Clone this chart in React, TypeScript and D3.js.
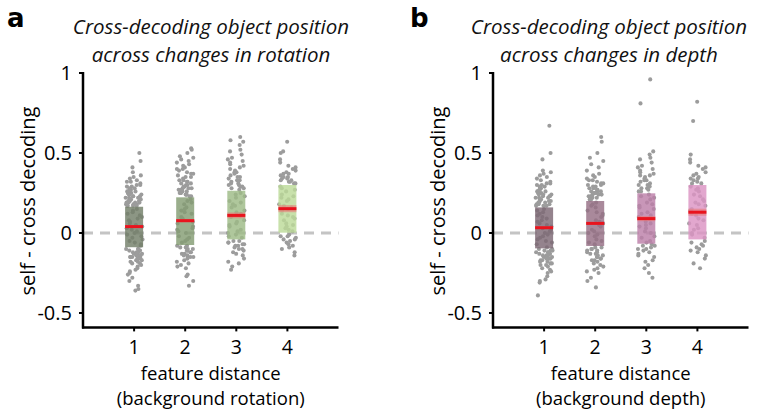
import React from 'react';
import * as d3 from 'd3';

const categories = [1, 2, 3, 4];
const yTicks = [-0.5, 0, 0.5, 1];
const yTickLabels = ['-0.5', '0', '0.5', '1'];

// Panel a: rotation
const rotMeans = [0.04, 0.077, 0.11, 0.152];
const rotBoxLow = [-0.089, -0.075, -0.04, 0.002];
const rotBoxHigh = [0.164, 0.223, 0.264, 0.3];
const rotCi = [0.008, 0.01, 0.018, 0.022];
const rotCat1 = [0.50, 0.45, 0.41, 0.38, 0.36, 0.35, 0.34, 0.33, 0.32, 0.32, 0.31, 0.30, 0.30, 0.29, 0.29, 0.28, 0.28, 0.27, 0.27, 0.27, 0.26, 0.26, 0.26, 0.25, 0.25, 0.25, 0.24, 0.24, 0.24, 0.23, 0.23, 0.23, 0.22, 0.22, 0.22, 0.22, 0.21, 0.21, 0.21, 0.21, 0.20, 0.20, 0.20, 0.20, 0.19, 0.19, 0.19, 0.19, 0.18, 0.18, 0.18, 0.18, 0.17, 0.17, 0.17, 0.17,
  0.15, 0.13, 0.11, 0.09, 0.07, 0.05, 0.03, 0.01, -0.01, -0.03, -0.05, -0.07, 0.14, 0.10, 0.06, 0.02, -0.02, -0.06, 0.12, 0.08, 0.04, 0.0, -0.04, -0.08,
  -0.10, -0.10, -0.10, -0.11, -0.11, -0.11, -0.12, -0.12, -0.12, -0.13, -0.13, -0.13, -0.14, -0.14, -0.14, -0.15, -0.15, -0.15, -0.16, -0.16, -0.17, -0.17, -0.18, -0.18, -0.19, -0.19, -0.20, -0.21, -0.22, -0.23, -0.24, -0.25, -0.26, -0.28, -0.30, -0.33, -0.35, -0.36];
const rotCat2 = [0.53, 0.52, 0.50, 0.48, 0.47, 0.46, 0.45, 0.44, 0.43, 0.42, 0.41, 0.40, 0.40, 0.39, 0.38, 0.37, 0.37, 0.36, 0.35, 0.35, 0.34, 0.33, 0.33, 0.32, 0.32, 0.31, 0.31, 0.30, 0.30, 0.29, 0.29, 0.28, 0.28, 0.28, 0.27, 0.27, 0.27, 0.26, 0.26, 0.26, 0.25, 0.25, 0.25, 0.24, 0.24, 0.24, 0.23, 0.23,
  0.21, 0.18, 0.15, 0.12, 0.09, 0.06, 0.03, 0.0, -0.03, -0.06, 0.20, 0.16, 0.13, 0.10, 0.07, 0.04, 0.01, -0.02, -0.05, 0.19, 0.14, 0.08, 0.02, -0.04,
  -0.08, -0.08, -0.09, -0.09, -0.10, -0.10, -0.11, -0.11, -0.12, -0.12, -0.13, -0.13, -0.14, -0.14, -0.15, -0.15, -0.16, -0.17, -0.18, -0.19, -0.20, -0.21, -0.22, -0.26, -0.27, -0.30, -0.33];
const rotCat3 = [0.60, 0.58, 0.57, 0.55, 0.52, 0.51, 0.49, 0.47, 0.46, 0.45, 0.44, 0.43, 0.42, 0.41, 0.40, 0.39, 0.38, 0.38, 0.37, 0.36, 0.35, 0.35, 0.34, 0.33, 0.33, 0.32, 0.31, 0.31, 0.30, 0.30, 0.29, 0.29, 0.28, 0.28, 0.27,
  0.25, 0.22, 0.19, 0.16, 0.13, 0.10, 0.07, 0.04, 0.01, -0.02, 0.24, 0.20, 0.17, 0.14, 0.11, 0.08, 0.05, 0.02, -0.01, -0.03, 0.23, 0.18, 0.12, 0.06, 0.0,
  -0.05, -0.05, -0.06, -0.06, -0.07, -0.07, -0.08, -0.08, -0.09, -0.10, -0.10, -0.11, -0.12, -0.13, -0.14, -0.16, -0.18, -0.19, -0.21, -0.23];
const rotCat4 = [0.57, 0.51, 0.50, 0.46, 0.44, 0.42, 0.41, 0.40, 0.39, 0.38, 0.37, 0.37, 0.36, 0.35, 0.35, 0.34, 0.34, 0.33, 0.33, 0.32, 0.32, 0.31, 0.31,
  0.29, 0.26, 0.23, 0.20, 0.17, 0.14, 0.11, 0.08, 0.05, 0.02, 0.28, 0.24, 0.21, 0.18, 0.15, 0.12, 0.09, 0.06, 0.03, 0.01, 0.27, 0.22, 0.16, 0.10, 0.04,
  -0.01, -0.02, -0.02, -0.03, -0.04, -0.04, -0.05, -0.06, -0.07, -0.08, -0.09, -0.10, -0.12, -0.14];

// Panel b: depth
const depMeans = [0.033, 0.06, 0.09, 0.13];
const depBoxLow = [-0.096, -0.081, -0.067, -0.04];
const depBoxHigh = [0.16, 0.2, 0.248, 0.3];
const depCi = [0.008, 0.01, 0.016, 0.022];
const depCat1 = [0.67, 0.50, 0.46, 0.39, 0.38, 0.37, 0.36, 0.35, 0.34, 0.33, 0.32, 0.31, 0.31, 0.30, 0.30, 0.29, 0.29, 0.28, 0.28, 0.27, 0.27, 0.26, 0.26, 0.26, 0.25, 0.25, 0.25, 0.24, 0.24, 0.24, 0.23, 0.23, 0.23, 0.22, 0.22, 0.22, 0.21, 0.21, 0.21, 0.20, 0.20, 0.20, 0.19, 0.19, 0.19, 0.18, 0.18, 0.18, 0.17, 0.17, 0.17,
  0.15, 0.13, 0.11, 0.09, 0.07, 0.05, 0.03, 0.01, -0.01, -0.03, -0.05, -0.07, -0.09, 0.14, 0.10, 0.06, 0.02, -0.02, -0.06, 0.12, 0.08, 0.04, 0.0, -0.04,
  -0.10, -0.10, -0.11, -0.11, -0.11, -0.12, -0.12, -0.12, -0.13, -0.13, -0.13, -0.14, -0.14, -0.14, -0.15, -0.15, -0.15, -0.16, -0.16, -0.16, -0.17, -0.17, -0.18, -0.18, -0.19, -0.19, -0.20, -0.20, -0.21, -0.22, -0.23, -0.24, -0.25, -0.27, -0.29, -0.30, -0.31, -0.39];
const depCat2 = [0.60, 0.57, 0.50, 0.47, 0.45, 0.43, 0.41, 0.39, 0.37, 0.36, 0.35, 0.34, 0.33, 0.33, 0.32, 0.31, 0.31, 0.30, 0.30, 0.29, 0.29, 0.28, 0.28, 0.27, 0.27, 0.26, 0.26, 0.26, 0.25, 0.25, 0.25, 0.24, 0.24, 0.24, 0.23, 0.23, 0.23, 0.22, 0.22, 0.22, 0.21, 0.21, 0.21,
  0.19, 0.16, 0.13, 0.10, 0.07, 0.04, 0.01, -0.02, -0.05, 0.18, 0.14, 0.11, 0.08, 0.05, 0.02, -0.01, -0.04, -0.07, 0.17, 0.12, 0.06, 0.0, -0.06,
  -0.09, -0.09, -0.10, -0.10, -0.11, -0.11, -0.12, -0.12, -0.13, -0.13, -0.14, -0.14, -0.15, -0.15, -0.16, -0.16, -0.17, -0.17, -0.18, -0.19, -0.20, -0.21, -0.22, -0.23, -0.24, -0.25, -0.28, -0.30, -0.34];
const depCat3 = [0.96, 0.81, 0.51, 0.49, 0.47, 0.46, 0.44, 0.42, 0.41, 0.40, 0.39, 0.38, 0.37, 0.36, 0.36, 0.35, 0.34, 0.33, 0.33, 0.32, 0.31, 0.30, 0.30, 0.29, 0.28, 0.28, 0.27, 0.26, 0.26,
  0.24, 0.21, 0.18, 0.15, 0.12, 0.09, 0.06, 0.03, 0.0, -0.03, -0.06, 0.23, 0.19, 0.16, 0.13, 0.10, 0.07, 0.04, 0.01, -0.02, -0.05, 0.22, 0.17, 0.11, 0.05,
  -0.07, -0.08, -0.08, -0.09, -0.10, -0.10, -0.11, -0.12, -0.13, -0.14, -0.15, -0.17, -0.18, -0.20, -0.22, -0.25, -0.28];
const depCat4 = [0.82, 0.70, 0.49, 0.46, 0.44, 0.42, 0.41, 0.40, 0.38, 0.37, 0.36, 0.35, 0.34, 0.34, 0.33, 0.32, 0.31, 0.31,
  0.29, 0.26, 0.23, 0.20, 0.17, 0.14, 0.11, 0.08, 0.05, 0.02, -0.01, 0.28, 0.24, 0.21, 0.18, 0.15, 0.12, 0.09, 0.06, 0.03, 0.0, -0.03, 0.27, 0.19, 0.13,
  -0.05, -0.06, -0.07, -0.08, -0.09, -0.10, -0.11, -0.12, -0.14, -0.16, -0.19, -0.22];

const rotColors = ['#737f69', '#849c73', '#9dbb86', '#bcdb98'];
const depColors = ['#7d6874', '#966f85', '#bc7fa8', '#dc94c3'];

const FONT = "'Open Sans', 'DejaVu Sans', sans-serif";

// deterministic horizontal jitter (layout only)
function jitter(i: number, c: number) {
  const s = Math.sin(i * 12.9898 + c * 78.233 + 1.7) * 43758.5453;
  return s - Math.floor(s);
}

type PanelProps = {
  letter: string;
  letterX: number;
  axisX: number;
  titleX: number;
  title: string[];
  xLabel: string[];
  points: number[][];
  means: number[];
  boxLow: number[];
  boxHigh: number[];
  ci: number[];
  colors: string[];
};

function Panel(p: PanelProps) {
  const x = d3.scaleLinear().domain([0, 5]).range([p.axisX, p.axisX + 255.5]);
  const y = d3.scaleLinear().domain([-0.59, 1]).range([327.4, 73]);
  const boxW = 18;
  const jitterW = 17;
  const plotCenter = (x(0) + x(5)) / 2;
  return (
    <g>
      <text x={p.letterX} y={27} fontFamily="'DejaVu Sans', sans-serif" fontWeight="bold" fontSize={26} fill="#000">{p.letter}</text>
      {p.title.map((t, i) => (
        <text key={i} x={p.titleX} y={34 + i * 28} textAnchor="middle" fontFamily={FONT} fontStyle="italic" fontSize={20.5} fill="#111">{t}</text>
      ))}
      <line x1={x(0)} x2={x(5)} y1={y(0)} y2={y(0)} stroke="#c4c4c4" strokeWidth={3} strokeDasharray="10,7" />
      {p.points.map((vals, c) => (
        <g key={'d' + c}>
          {vals.map((v, i) => (
            <circle key={i} cx={x(categories[c]) + (jitter(i, c) - 0.5) * jitterW} cy={y(v)} r={2.05} fill="#9c9c9c" />
          ))}
        </g>
      ))}
      {categories.map((cat, c) => (
        <g key={'b' + c}>
          <rect x={x(cat) - boxW / 2} width={boxW} y={y(p.boxHigh[c])} height={y(p.boxLow[c]) - y(p.boxHigh[c])} fill={p.colors[c]} fillOpacity={0.82} />
          <rect x={x(cat) - boxW / 2} width={boxW} y={y(p.means[c] + p.ci[c])} height={y(p.means[c] - p.ci[c]) - y(p.means[c] + p.ci[c])} fill="#e87a7a" fillOpacity={0.6} />
          <line x1={x(cat) - boxW / 2} x2={x(cat) + boxW / 2} y1={y(p.means[c])} y2={y(p.means[c])} stroke="#e8141e" strokeWidth={3} />
        </g>
      ))}
      <line x1={x(0)} x2={x(0)} y1={y(1) - 1} y2={y(-0.59) + 1} stroke="#000" strokeWidth={2.5} />
      {yTicks.map((t, i) => (
        <g key={'yt' + i}>
          <line x1={x(0) - 4} x2={x(0)} y1={y(t)} y2={y(t)} stroke="#000" strokeWidth={2} />
          <text x={x(0) - 11} y={y(t) + 7} textAnchor="end" fontFamily={FONT} fontSize={20} fill="#000">{yTickLabels[i]}</text>
        </g>
      ))}
      <line x1={x(0) - 1} x2={x(5)} y1={y(-0.59)} y2={y(-0.59)} stroke="#000" strokeWidth={2.5} />
      {categories.map((cat, i) => (
        <g key={'xt' + i}>
          <line x1={x(cat)} x2={x(cat)} y1={y(-0.59)} y2={y(-0.59) + 4} stroke="#000" strokeWidth={2} />
          <text x={x(cat)} y={354} textAnchor="middle" fontFamily={FONT} fontSize={19.5} fill="#000">{cat}</text>
        </g>
      ))}
      {p.xLabel.map((t, i) => (
        <text key={'xl' + i} x={plotCenter} y={380 + i * 25} textAnchor="middle" fontFamily={FONT} fontSize={18.5} fill="#000">{t}</text>
      ))}
      <text transform={`translate(${x(0) - 48},201) rotate(-90)`} textAnchor="middle" fontFamily={FONT} fontSize={20} fill="#000">self - cross decoding</text>
    </g>
  );
}

export default function App() {
  return (
    <svg width={768} height={414} style={{ position: 'absolute', left: 0, top: 0, background: '#fff' }}>
      <rect width={768} height={414} fill="#fff" />
      <Panel
        letter="a"
        letterX={7}
        axisX={83}
        titleX={211}
        title={['Cross-decoding object position', 'across changes in rotation']}
        xLabel={['feature distance', '(background rotation)']}
        points={[rotCat1, rotCat2, rotCat3, rotCat4]}
        means={rotMeans}
        boxLow={rotBoxLow}
        boxHigh={rotBoxHigh}
        ci={rotCi}
        colors={rotColors}
      />
      <Panel
        letter="b"
        letterX={410}
        axisX={493}
        titleX={609}
        title={['Cross-decoding object position', 'across changes in depth']}
        xLabel={['feature distance', '(background depth)']}
        points={[depCat1, depCat2, depCat3, depCat4]}
        means={depMeans}
        boxLow={depBoxLow}
        boxHigh={depBoxHigh}
        ci={depCi}
        colors={depColors}
      />
    </svg>
  );
}
